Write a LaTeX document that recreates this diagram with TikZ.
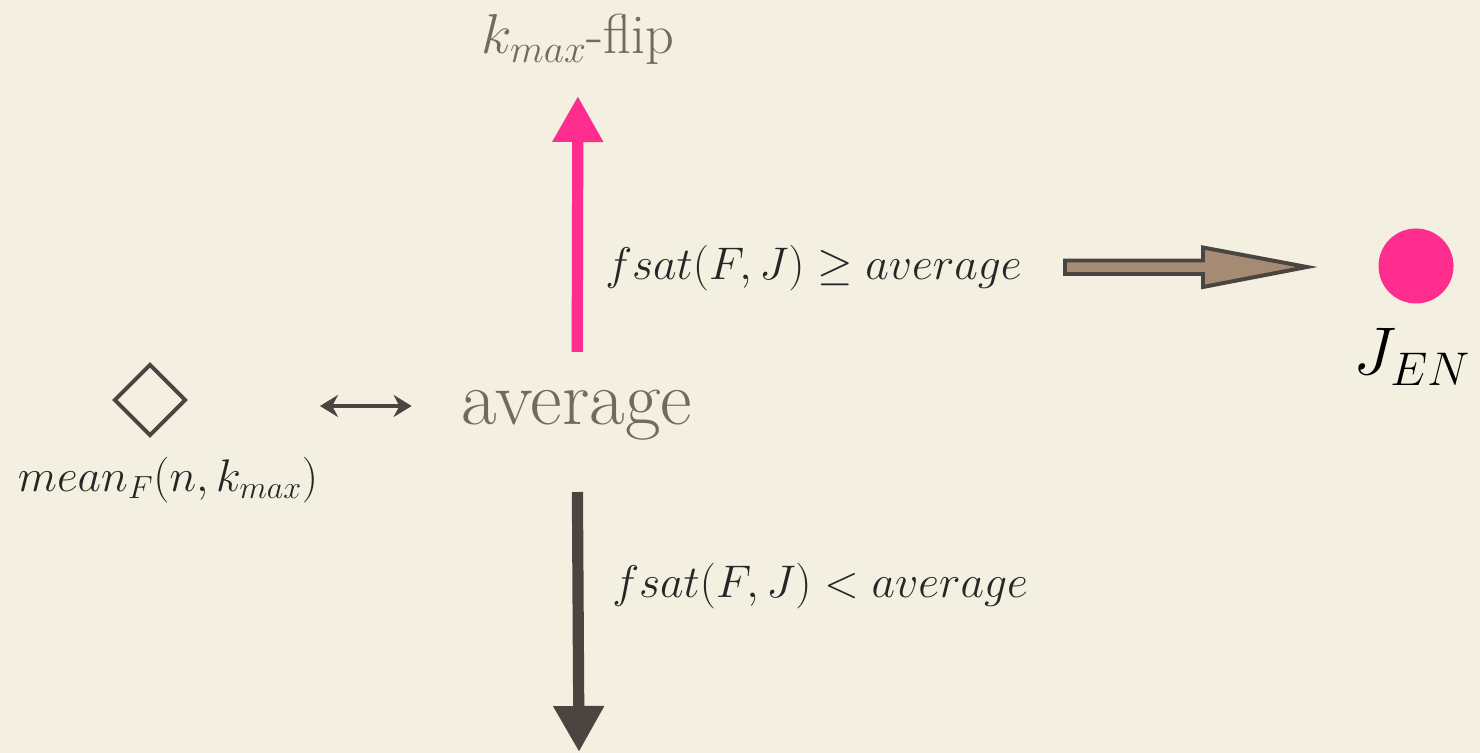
\RequirePackage{fix-cm}
\documentclass[tikz,border=0pt]{standalone}
\usetikzlibrary{arrows.meta,shapes.geometric}

\definecolor{paper}{HTML}{F4F0E1}
\definecolor{inkgray}{HTML}{6F6B63}
\definecolor{darkink}{HTML}{4A4541}
\definecolor{hotpink}{HTML}{FF2E8E}
\definecolor{mud}{HTML}{A58B74}

\begin{document}
\begin{tikzpicture}[x=0.025cm, y=-0.025cm,
		graytext/.style={text=inkgray, inner sep=0pt},
		mathlbl/.style={text=black!85, inner sep=0pt, font=\fontsize{32.5}{38}\selectfont},
		fatarrow/.style={line width=0.28cm, -{Triangle[width=1.2cm,length=1.15cm]}},
		twoway/.style={line width=2.3pt, draw=darkink, {Stealth[length=0.45cm,width=0.55cm]}-{Stealth[length=0.45cm,width=0.55cm]}},
		blockarrow/.style={line width=2.8pt, draw=darkink, fill=mud, line join=miter}]

	\useasboundingbox (0,0) rectangle (1480,753);
	\fill[paper] (0,0) rectangle (1480,753);

	\node[graytext, anchor=base, font=\fontsize{55}{60}\selectfont] (avg) at (577,425) {average};
	\node[graytext, anchor=base, font=\fontsize{40}{46}\selectfont] (flip) at (578,54) {$k_{max}$-flip};

	\node[draw=darkink, line width=2.8pt, shape=diamond, minimum width=1.8cm, minimum height=1.8cm, inner sep=0pt] (diam) at (150,400) {};
	\node[mathlbl] (mean) at (168,480) {$mean_F(n,k_{max})$};

	\node[mathlbl, anchor=west] (ge) at (605,268) {$fsat(F,J)\geq average$};
	\node[mathlbl, anchor=west] (lt) at (612,586) {$fsat(F,J)<average$};

	\node[circle, fill=hotpink, minimum size=1.875cm, inner sep=0pt] (dot) at (1416,266) {};
	\node[inner sep=0pt, font=\fontsize{48}{54}\selectfont] (jen) at (1412,357) {$J_{EN}$};

	\coordinate (low) at (579,752);
	\coordinate (bt) at (1065,267);
	\coordinate (bh) at (1307,267);

	\draw[fatarrow, hotpink, shorten <=1.825cm, shorten >=1.05cm] (avg.base) -- (flip.base);
	\draw[fatarrow, darkink, shorten <=1.675cm] (avg.base) -- (low);

	\path (diam.east -| avg.west) coordinate (dv);
	\draw[twoway, shorten <=3.3cm, shorten >=1.25cm] ([yshift=-0.15cm]diam.east) -- ([yshift=-0.15cm]dv);

	\draw[blockarrow] (bt) ++(0,-6.5) -- ++(138,0) -- ++(0,-13) -- (bh) -- ++(-104,20) -- ++(0,-13) -- ++(-138,0) -- cycle;

\end{tikzpicture}
\end{document}
